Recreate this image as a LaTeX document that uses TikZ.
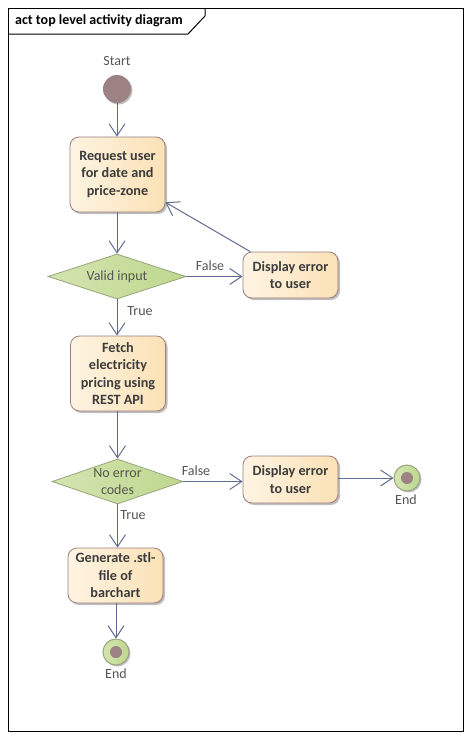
\documentclass[tikz,border=0pt]{standalone}
\usepackage{fontspec}
\setmainfont{Carlito}
\usetikzlibrary{shapes.geometric,arrows.meta,shadows}
\definecolor{edgec}{HTML}{5E6C8E}
\definecolor{boxl}{HTML}{FEF4E2}
\definecolor{boxr}{HTML}{FBE1B6}
\definecolor{boxb}{HTML}{9A7E7E}
\definecolor{dial}{HTML}{D4E5B0}
\definecolor{diar}{HTML}{BED78F}
\definecolor{diab}{HTML}{98A47C}
\definecolor{startc}{HTML}{9C8282}
\definecolor{txt}{HTML}{3C3C3C}
\definecolor{lbl}{HTML}{555555}
\tikzset{
  actbox/.style={draw=boxb, line width=0.8pt, rounded corners=9pt, left color=boxl, right color=boxr,
    minimum width=95pt, align=center, inner sep=1pt, font=\fontsize{14.2}{17.5}\selectfont\bfseries, text=txt,
    drop shadow={shadow xshift=2pt, shadow yshift=-2pt, opacity=0.25, fill=black}},
  decis/.style={diamond, shape aspect=3, draw=diab, line width=0.8pt, left color=dial, right color=diar, inner sep=0pt,
    align=center, font=\fontsize{14}{17}\selectfont, text=lbl},
  flow/.style={draw=edgec, line width=1pt, -{Straight Barb[length=12pt,width=16pt,line width=1pt]}},
  lab/.style={font=\fontsize{14}{16}\selectfont, text=lbl, inner sep=0pt},
  initnode/.style={circle, fill=startc, minimum size=28pt, inner sep=0pt,
    drop shadow={shadow xshift=1.5pt, shadow yshift=-1.5pt, opacity=0.25, fill=black}},
  finalnode/.style={circle, draw=diab, line width=1pt, left color=dial, right color=diar, minimum size=26pt, inner sep=0pt,
    drop shadow={shadow xshift=1.5pt, shadow yshift=-1.5pt, opacity=0.25, fill=black}},
  finaldot/.style={circle, fill=startc, minimum size=12pt, inner sep=0pt}
}
\begin{document}
\begin{tikzpicture}[x=1pt,y=-1pt]
\useasboundingbox (0,0) rectangle (470,739);
\fill[white] (0,0) rectangle (470,739);
% frame
\draw[black, line width=1pt] (8,8) rectangle (463,731);
\draw[black, line width=1pt] (8,34) -- (188,34) -- (205,16) -- (205,8);
\node[anchor=west, font=\fontsize{14}{16}\selectfont\bfseries, inner sep=0pt] (title) at (15,21) {act top level activity diagram};

% nodes
\node[initnode] (start) at (117,89) {};
\node[lab] (startl) at (117,61) {Start};
\node[actbox, minimum height=75pt] (req) at (117.5,174.5) {Request user\\for date and\\price-zone};
\node[decis, minimum width=138pt, minimum height=45pt] (valid) at (117,276.5) {Valid input};
\node[actbox, minimum height=46pt] (err1) at (290.5,275) {Display error\\to user};
\node[actbox, minimum height=75pt] (fetch) at (118,373.5) {Fetch\\electricity\\pricing using\\REST API};
\node[decis, minimum width=131pt, minimum height=45pt] (noerr) at (117.5,481.5) {No error\\codes};
\node[actbox, minimum height=47pt] (err2) at (290.5,479.5) {Display error\\to user};
\node[finalnode] (end2) at (407,478) {};
\node[finaldot] at (end2) {};
\node[lab] (end2l) at (406,500) {End};
\node[actbox, minimum height=55pt] (gen) at (115.5,575.5) {Generate .stl-\\file of\\barchart};
\node[finalnode] (end1) at (116,652) {};
\node[finaldot] at (end1) {};
\node[lab] (end1l) at (116,674) {End};

% connectors
\draw[flow] (start) -- (req.north -| start);
\draw[flow] (req.south -| start) -- (valid.north);
\draw[flow] (valid.east) -- (err1.west |- valid.east);
\node[lab] at (210,266) {False};
\draw[flow] (err1) -- (req);
\draw[flow] (valid.south) -- (fetch.north -| valid.south);
\node[lab] at (140,311) {True};
\draw[flow] (fetch.south -| noerr.north) -- (noerr.north);
\draw[flow] (noerr.east) -- (err2.west |- noerr.east);
\node[lab] at (196,471) {False};
\draw[flow] (err2.east |- end2) -- (end2.west);
\draw[flow] (noerr.south) -- (gen.north -| noerr.south);
\node[lab] at (133,515) {True};
\draw[flow] (gen.south -| end1) -- (end1.north);
\end{tikzpicture}
\end{document}
